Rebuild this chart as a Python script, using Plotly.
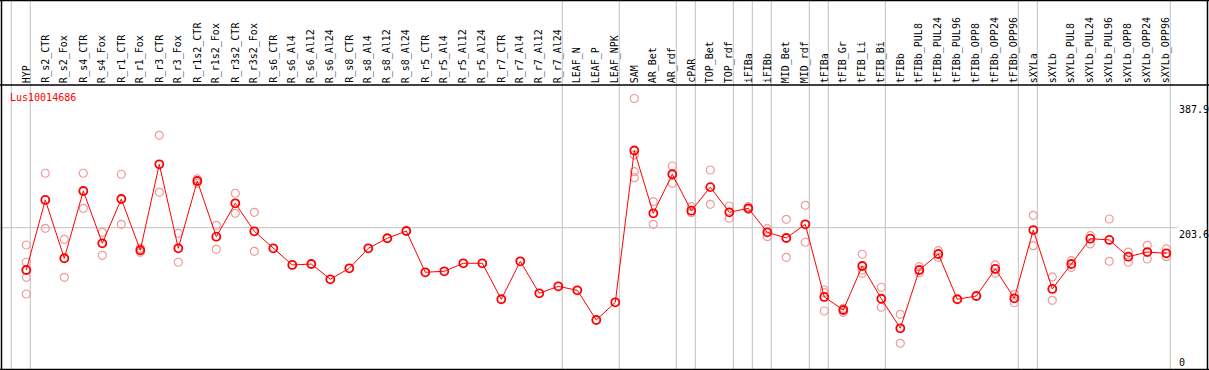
import plotly.graph_objects as go

categories = [
    "HYP", "R_s2_CTR", "R_s2_Fox", "R_s4_CTR", "R_s4_Fox", "R_r1_CTR", "R_r1_Fox",
    "R_r3_CTR", "R_r3_Fox", "R_r1s2_CTR", "R_r1s2_Fox", "R_r3s2_CTR", "R_r3s2_Fox",
    "R_s6_CTR", "R_s6_Al4", "R_s6_Al12", "R_s6_Al24", "R_s8_CTR", "R_s8_Al4",
    "R_s8_Al12", "R_s8_Al24", "R_r5_CTR", "R_r5_Al4", "R_r5_Al12", "R_r5_Al24",
    "R_r7_CTR", "R_r7_Al4", "R_r7_Al12", "R_r7_Al24", "LEAF_N", "LEAF_P", "LEAF_NPK",
    "SAM", "AR_Bet", "AR_rdf", "cPAR", "TOP_Bet", "TOP_rdf", "iFIBa", "iFIBb",
    "MID_Bet", "MID_rdf", "tFIBa", "tFIB_Gr", "tFIB_Li", "tFIB_Bi", "tFIBb",
    "tFIBb_PUL8", "tFIBb_PUL24", "tFIBb_PUL96", "tFIBb_OPP8", "tFIBb_OPP24",
    "tFIBb_OPP96", "sXYLa", "sXYLb", "sXYLb_PUL8", "sXYLb_PUL24", "sXYLb_PUL96",
    "sXYLb_OPP8", "sXYLb_OPP24", "sXYLb_OPP96",
]

means = [
    141.2, 244.5, 158.5, 257.7, 180.6, 245.9, 170.3, 297.1, 173.2, 272.5, 190.3,
    239.6, 198.3, 173.2, 148.6, 150.0, 127.5, 143.7, 173.2, 188.0, 198.7, 137.8,
    139.3, 151.1, 151.1, 98.0, 154.0, 106.8, 117.1, 111.2, 67.4, 93.5,
    317.5, 224.8, 282.4, 228.7, 263.4, 226.3, 232.2, 196.8, 188.4, 208.6,
    101.4, 82.2, 147.1, 98.8, 55.2, 141.2, 164.8, 98.0, 102.8, 142.7, 99.4,
    200.1, 113.2, 150.0, 187.4, 185.5, 160.8, 167.7, 165.8,
]

replicates = [
    [178.1, 152.6, 130.4, 105.8], [283.9, 202.7], [186.5, 130.4], [283.9, 232.2],
    [196.8, 162.9], [282.4, 208.6], [173.2, 167.3], [339.9, 255.8], [195.3, 152.6],
    [275.5, 269.1], [207.1, 171.7], [254.4, 224.8], [226.3, 168.8],
    [], [], [], [], [], [], [], [], [], [], [], [], [], [], [], [], [], [], [],
    [394.2, 310.9, 286.2, 277.4], [242.0, 208.6], [294.6, 269.1], [234.6, 225.7],
    [288.7, 238.1], [235.6, 217.5], [234.6, 230.5], [202.1, 190.3], [216.0, 159.9],
    [236.6, 182.1], [111.7, 107.7, 80.7], [84.7, 78.8], [164.4, 141.0, 136.3],
    [115.7, 86.2], [75.8, 33.0], [146.1, 137.2], [169.7, 159.9], [], [],
    [148.6, 136.3], [105.3, 92.9], [221.9, 177.0], [130.9, 96.5], [154.9, 145.2],
    [191.8, 179.6], [216.4, 154.0], [167.7, 152.6], [177.6, 157.4], [172.2, 160.8],
]

# group boundaries: a separator follows these category indices (-1 = before first)
group_ends = [-1, 0, 28, 31, 34, 35, 37, 38, 39, 41, 42, 45, 52, 53, 60]

y_ticks = [0, 203.6, 387.9]
y_tick_labels = ["0", "203.6", "387.9"]
gene_id = "Lus10014686"

W, H = 1209, 370
FONT = "DejaVu Sans Mono"
GRID = "#c0c0c0"

xs = list(range(len(categories)))
rep_x = [i for i, reps in enumerate(replicates) for _ in reps]
rep_y = [v for reps in replicates for v in reps]

fig = go.Figure()
fig.add_trace(go.Scatter(
    x=rep_x, y=rep_y, mode="markers",
    marker=dict(symbol="circle-open", size=8, color="#f09a9a", line=dict(width=1.2)),
    hoverinfo="y", showlegend=False,
))
fig.add_trace(go.Scatter(
    x=xs, y=means, mode="lines+markers",
    line=dict(color="#ff0000", width=1),
    marker=dict(symbol="circle-open", size=8, color="#ff0000", line=dict(width=1.8)),
    text=categories, hoverinfo="text+y", showlegend=False,
))

shapes = []
for g in group_ends:
    shapes.append(dict(type="line", xref="x", yref="paper", x0=g + 0.21, x1=g + 0.21,
                       y0=0, y1=1, line=dict(color=GRID, width=1), layer="below"))
shapes.append(dict(type="line", xref="paper", yref="y", x0=0, x1=1177 / W,
                   y0=y_ticks[1], y1=y_ticks[1], line=dict(color=GRID, width=1), layer="below"))
# borders and header separator
head_y = (H - 85) / H
for (x0, y0, x1, y1) in [(0, 1 - 0.5 / H, 1, 1 - 0.5 / H), (0, 0.5 / H, 1, 0.5 / H),
                         (1.5 / W, 0, 1.5 / W, 1), (1 - 1.5 / W, 0, 1 - 1.5 / W, 1),
                         (0, head_y, 1, head_y)]:
    shapes.append(dict(type="line", xref="paper", yref="paper", x0=x0, y0=y0, x1=x1, y1=y1,
                       line=dict(color="black", width=1.5)))

annotations = []
for i, c in enumerate(categories):
    annotations.append(dict(x=i, xref="x", y=(H - 84) / H, yref="paper", text=c,
                            textangle=-90, showarrow=False, xanchor="center", yanchor="bottom",
                            font=dict(family=FONT, size=10, color="black"), borderpad=0))
for v, t in zip(y_ticks, y_tick_labels):
    if v == 0:
        annotations.append(dict(x=1178 / W, xref="paper", y=1 / H, yref="paper", text=t,
                                showarrow=False, xanchor="left", yanchor="bottom", borderpad=0,
                                font=dict(family=FONT, size=10, color="black")))
    else:
        annotations.append(dict(x=1178 / W, xref="paper", y=v, yref="y", text=t,
                                showarrow=False, xanchor="left", yanchor="top", borderpad=0,
                                font=dict(family=FONT, size=10, color="black")))
annotations.append(dict(x=9 / W, xref="paper", y=(H - 97) / H, yref="paper", text=gene_id,
                        showarrow=False, xanchor="left", yanchor="middle", borderpad=0,
                        font=dict(family=FONT, size=10, color="#ff0000")))

fig.update_layout(
    width=W, height=H, margin=dict(l=0, r=0, t=0, b=0),
    paper_bgcolor="white", plot_bgcolor="white",
    xaxis=dict(range=[-26.3 / 19, (W - 26.3) / 19], visible=False, fixedrange=True),
    yaxis=dict(domain=[0, (H - 85) / H], range=[-6.34, 414.1], visible=False, fixedrange=True),
    shapes=shapes, annotations=annotations,
)

fig.write_html(
    "out.html",
    config={"displayModeBar": False},
    post_script="document.body.style.margin='0';document.body.style.padding='0';"
                "document.body.style.overflow='hidden';",
)
